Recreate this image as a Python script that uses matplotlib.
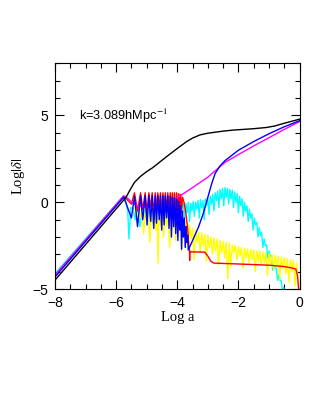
import numpy as np
import matplotlib
matplotlib.use("Agg")
import matplotlib.pyplot as plt
from matplotlib.ticker import MultipleLocator

plt.rcParams['mathtext.fontset'] = 'stix'

# black
black_x = [-8, -5.68, -5.55, -5.4, -5.2, -5.0, -4.8, -4.35, -4.0, -3.7, -3.5, -3.26, -3.0, -2.5, -2.17, -1.5, -1.08, -0.8, -0.53, -0.25, 0]
black_y = [-4.48, 0.28, 0.7, 1.15, 1.5, 1.77, 2.0, 2.63, 3.1, 3.49, 3.7, 3.88, 3.98, 4.1, 4.16, 4.24, 4.31, 4.4, 4.54, 4.67, 4.79]

# magenta
mag_x = [-8, -5.75, -5.6, -5.45, -5.3, -5.0, -4.6, -4.3, -4.15, -4.05, -3.97, -3.5, -3.0, -2.44, -2.0, -1.5, -1.0, -0.5, 0]
mag_y = [-4.2, 0.38, 0.2, -0.05, -0.22, -0.28, -0.27, -0.2, -0.05, 0.15, 0.3, 0.85, 1.45, 2.3, 2.75, 3.25, 3.72, 4.2, 4.65]

# blue
blue_x = [-8, -5.75, -5.5, -5.4, -5.3, -5.2, -5.13, -5.05, -4.99, -4.93, -4.87, -4.82, -4.77, -4.72, -4.68,
          -4.635, -4.59, -4.55, -4.51, -4.47, -4.43, -4.39, -4.35, -4.31, -4.27, -4.23, -4.19, -4.16,
          -4.12, -4.09, -4.05, -4.02, -3.98, -3.95, -3.92, -3.89, -3.86, -3.83, -3.80, -3.77, -3.74,
          -3.71, -3.69, -3.66, -3.64, -3.47, -3.3, -3.15, -2.98, -2.87, -2.76, -2.6, -2.44, -2.0,
          -1.5, -1.0, -0.5, 0]
blue_y = [-4.3, 0.3, -0.9, 0.35, -1.4, 0.38, -1.0, 0.38, -1.3, 0.38, -1.1, 0.38, -1.5, 0.38, -1.2,
          0.38, -1.0, 0.38, -1.6, 0.38, -1.3, 0.38, -0.9, 0.38, -1.5, 0.36, -2.0, 0.3,
          -1.4, 0.25, -1.8, 0.2, -2.2, 0.05, -1.6, -0.2, -2.7, -0.5, -2.0, -0.9, -2.6,
          -1.4, -2.3, -1.9, -2.75, -2.08, -1.4, -0.64, 0.42, 1.1, 1.67, 2.1, 2.4, 3.0,
          3.5, 3.95, 4.35, 4.7]

# red
red_x = [-8, -5.75, -5.5, -5.4, -5.3, -5.2, -5.13, -5.05, -4.99, -4.93, -4.87, -4.82, -4.77, -4.72, -4.68,
         -4.635, -4.59, -4.55, -4.51, -4.47, -4.43, -4.39, -4.35, -4.31, -4.27, -4.23, -4.19, -4.16,
         -4.12, -4.09, -4.05, -4.02, -3.98, -3.95, -3.92, -3.89, -3.86, -3.83, -3.78, -3.72, -3.66,
         -3.62, -3.6, -3.595, -3.59, -3.1, -3.0, -2.9, -2.8, -2.0, -1.0, -0.5, -0.25, -0.12, -0.07,
         -0.04, -0.02]
red_y = [-4.2, 0.35, -0.1, 0.55, -0.5, 0.55, -0.4, 0.55, -0.6, 0.55, -0.3, 0.55, -0.7, 0.55, -0.4,
         0.55, -0.5, 0.55, -0.8, 0.55, -0.4, 0.55, -0.6, 0.55, -0.7, 0.55, -0.5, 0.55,
         -0.6, 0.55, -0.7, 0.55, -0.6, 0.5, -0.5, 0.45, -0.6, 0.3, 0.0, -0.6, -1.5,
         -2.5, -2.75, -3.35, -2.85, -2.87, -3.1, -3.4, -3.5, -3.55, -3.62, -3.7, -3.78, -3.85, -4.2,
         -4.8, -5.2]

# cyan
cyan_x = [-8, -5.8, -5.7, -5.62, -5.58, -5.52, -5.45, -5.38, -5.30, -5.22, -5.15, -5.08, -5.02, -4.96,
          -4.90, -4.84, -4.78, -4.72, -4.66, -4.60, -4.54, -4.48, -4.42, -4.36, -4.30, -4.24, -4.18,
          -4.12, -4.06, -4.00, -3.94, -3.88, -3.84,
          -3.80, -3.76, -3.72, -3.68, -3.64, -3.60, -3.56, -3.52, -3.48, -3.44, -3.40, -3.36, -3.32,
          -3.28, -3.24, -3.20, -3.16, -3.12, -3.08, -3.04, -3.00, -2.96, -2.92, -2.88, -2.84, -2.80,
          -2.76, -2.72, -2.68, -2.64, -2.60, -2.56, -2.52, -2.48, -2.44, -2.40, -2.36, -2.32, -2.28,
          -2.24, -2.20, -2.16, -2.12, -2.08, -2.04, -2.00, -1.96, -1.92, -1.88, -1.84, -1.80, -1.76,
          -1.72, -1.68, -1.64, -1.60, -1.56, -1.52, -1.48, -1.44, -1.40, -1.36, -1.32, -1.28, -1.24,
          -1.20, -1.16, -1.12, -1.08, -1.04, -1.00, -0.96, -0.92, -0.88, -0.84, -0.80, -0.76, -0.72,
          -0.68, -0.64, -0.60, -0.56, -0.52, -0.48]
cyan_y = [-4.1, 0.3, 0.2, -0.5, -2.1, -0.3, -0.35, -1.0, -0.3, -1.4, -0.35, -0.9, -0.3, -1.3,
          -0.35, -0.8, -0.3, -1.1, -0.25, -0.7, -0.3, -1.2, -0.25, -0.6, -0.2, -1.0, -0.2,
          -0.5, -0.15, -0.9, -0.1, -0.6, -0.1,
          -0.1, -0.9, -0.05, -0.6, 0.0, -1.1, -0.05, -0.5, 0.05, -0.8, 0.0, -0.4, 0.1,
          -0.9, 0.15, -0.3, 0.1, -1.0, 0.2, -0.2, 0.25, -0.7, 0.35, -0.1, 0.45, -0.5,
          0.55, 0.1, 0.65, -0.3, 0.75, 0.2, 0.8, -0.2, 0.85, 0.3, 0.8, -0.1, 0.75,
          0.2, 0.7, -0.3, 0.6, 0.0, 0.5, -0.6, 0.35, -0.2, 0.2, -0.8, 0.0, -0.5,
          -0.2, -1.1, -0.4, -0.9, -0.65, -1.6, -0.9, -1.3, -1.15, -2.0, -1.45, -1.9, -1.75,
          -2.6, -2.1, -2.5, -2.45, -3.2, -2.8, -3.1, -3.1, -3.9, -3.45, -3.8, -3.8, -4.5,
          -4.15, -4.5, -4.5, -5.2, -4.9, -5.3]

# yellow
yel_x = [-5.35, -5.30, -5.25, -5.20, -5.15, -5.10, -5.05, -5.00, -4.95, -4.90, -4.85, -4.80, -4.75,
         -4.70, -4.66, -4.63, -4.60, -4.55, -4.50, -4.45, -4.40, -4.35, -4.30, -4.25, -4.20, -4.15,
         -4.10, -4.05, -4.00, -3.95, -3.90, -3.85, -3.80, -3.75, -3.70, -3.65, -3.60, -3.55, -3.50,
         -3.45, -3.40, -3.35, -3.30, -3.25, -3.20, -3.15, -3.10, -3.05, -3.00, -2.95, -2.90, -2.85,
         -2.80, -2.75, -2.70, -2.65, -2.60, -2.55, -2.50, -2.45, -2.40, -2.35, -2.30, -2.25, -2.20,
         -2.15, -2.10, -2.05, -2.00, -1.95, -1.90, -1.85, -1.80, -1.75, -1.70, -1.65, -1.60, -1.55,
         -1.50, -1.45, -1.40, -1.35, -1.30, -1.25, -1.20, -1.15, -1.10, -1.05, -1.00, -0.95, -0.90,
         -0.85, -0.80, -0.75, -0.70, -0.65, -0.60, -0.55, -0.50, -0.45, -0.40, -0.35, -0.30, -0.25,
         -0.20, -0.15, -0.10, -0.06, -0.03]
yel_y = [-0.3, -1.2, -0.4, -0.9, -0.5, -1.8, -0.6, -1.0, -0.55, -2.3, -0.6, -1.2, -0.5,
         -1.6, -0.6, -3.5, -0.7, -1.3, -0.6, -2.0, -0.7, -1.4, -0.6, -2.6, -0.8, -1.5,
         -0.8, -2.2, -0.9, -1.6, -1.0, -2.8, -1.1, -1.9, -1.2, -2.4, -1.3, -2.1, -1.5,
         -3.3, -1.6, -2.3, -1.7, -2.9, -1.75, -2.5, -1.85, -3.4, -1.9, -2.6, -2.0, -3.0,
         -2.05, -2.8, -2.1, -3.6, -2.2, -2.9, -2.25, -3.2, -2.3, -4.4, -2.35, -3.7, -2.45,
         -2.9, -2.5, -3.3, -2.55, -3.1, -2.6, -3.8, -2.65, -3.2, -2.7, -3.5, -2.72, -3.3,
         -2.75, -4.0, -2.78, -3.4, -2.82, -3.6, -2.86, -3.5, -2.9, -4.2, -2.95, -3.6, -3.0,
         -3.9, -3.05, -3.7, -3.1, -4.4, -3.15, -3.8, -3.2, -4.1, -3.25, -4.6, -3.3, -4.0,
         -3.35, -4.8, -3.5, -4.3, -5.0]

fig = plt.figure(figsize=(3.16, 4.09), dpi=100)
ax = fig.add_axes([0.174, 0.293, 0.774, 0.552])

lw = 1.0
ax.plot(cyan_x, cyan_y, color='cyan', lw=lw)
ax.plot(yel_x, yel_y, color='yellow', lw=lw)
ax.plot(red_x, red_y, color='red', lw=lw)
ax.plot(mag_x, mag_y, color='magenta', lw=lw)
ax.plot(blue_x, blue_y, color='blue', lw=lw)
ax.plot(black_x, black_y, color='black', lw=lw)

ax.set_xlim(-8, 0)
ax.set_ylim(-5, 8)
ax.xaxis.set_major_locator(MultipleLocator(2))
ax.xaxis.set_minor_locator(MultipleLocator(0.5))
ax.yaxis.set_major_locator(MultipleLocator(5))
ax.yaxis.set_minor_locator(MultipleLocator(1))
ax.tick_params(which='both', direction='in', top=True, right=True, width=0.8)
ax.tick_params(which='major', length=6.5, labelsize=10, pad=5)
ax.tick_params(which='minor', length=3.5)
for lab in ax.get_xticklabels() + ax.get_yticklabels():
    lab.set_family('Liberation Sans')

ax.set_xlabel('Log a', family='Liberation Serif', fontsize=10.5, labelpad=1)
ax.set_ylabel(r'Log$|\delta|$', family='Liberation Serif', fontsize=10.5, labelpad=4)
ax.text(-7.2, 5.0, r'k=3.089hMpc$^{-1}$', fontsize=9.2, family='Liberation Sans', va='center')

plt.savefig('out.png', dpi=100)
